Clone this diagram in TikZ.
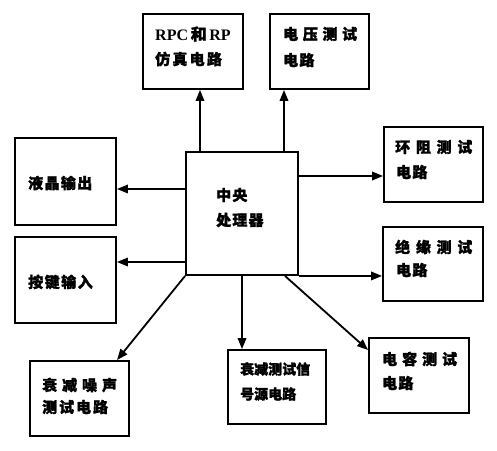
\documentclass[tikz,border=0pt]{standalone}
\usepackage{fontspec}
\setmainfont{Liberation Serif}
\newfontfamily\cjk[FakeBold=1.5]{Noto Sans CJK SC}
\usetikzlibrary{arrows.meta,fit,calc}
\newcommand\lsp[1]{\addfontfeature{LetterSpace=#1}}
\begin{document}
\begin{tikzpicture}[x=1pt,y=-1pt,
  box/.style={draw,line width=1.9pt,inner sep=0pt},
  arr/.style={line width=1.8pt,-{Triangle[length=11pt,width=8.5pt]}},
  txt/.style={anchor=west,inner sep=0pt,font=\cjk\bfseries\fontsize{15}{18}\selectfont},
  stxt/.style={anchor=west,inner sep=0pt,font=\cjk\bfseries\fontsize{14}{17}\selectfont}]
\useasboundingbox (0,0) rectangle (497,450);
% boxes
\node[box,fit={(143,14) (243,89)}] (rpc) {};
\node[box,fit={(270,14) (369,89)}] (volt) {};
\node[box,fit={(384,127) (483,202)}] (ring) {};
\node[box,fit={(15,138) (116,225)}] (lcd) {};
\node[box,fit={(186,152) (298,275)}] (cpu) {};
\node[box,fit={(15,237) (116,323)}] (key) {};
\node[box,fit={(383,227) (483,301)}] (ins) {};
\node[box,fit={(30,361) (129,436)}] (noise) {};
\node[box,fit={(228,350) (326,424)}] (sig) {};
\node[box,fit={(369,338) (469,413)}] (cap) {};
% texts
\node[txt] (t1a) at (155,34) {\fontspec{Liberation Serif}\bfseries\fontsize{16}{18}\selectfont RPC\,{\cjk 和}\,RP};
\node[txt] (t1b) at (155,59) {\lsp{15}仿真电路};
\node[txt] (t2a) at (283,34) {\lsp{31}电压测试};
\node[txt] (t2b) at (283,60) {\lsp{8}电路};
\node[txt] (t3a) at (395,147) {\lsp{38}环阻测试};
\node[txt] (t3b) at (396,172) {\lsp{8}电路};
\node[txt] (t4) at (28,183) {\lsp{9}液晶输出};
\node[txt] (t5a) at (216,195) {\lsp{8}中央};
\node[txt] (t5b) at (216,220) {\lsp{8}处理器};
\node[txt] (t6) at (28,282) {\lsp{10}按键输入};
\node[txt] (t7a) at (395,247) {\lsp{38}绝缘测试};
\node[txt] (t7b) at (396,270) {\lsp{8}电路};
\node[txt] (t8a) at (42,385) {\lsp{33}衰减噪声};
\node[txt] (t8b) at (42,407) {\lsp{13}测试电路};
\node[stxt] (t9a) at (240,369) {衰减测试信};
\node[stxt] (t9b) at (240,394) {号源电路};
\node[txt] (t10a) at (382,359) {\lsp{33}电容测试};
\node[txt] (t10b) at (382,383) {\lsp{8}电路};
% arrows
\draw[arr] (cpu.north -| 200,0) -- (rpc.south -| 200,0);
\draw[arr] (cpu.north -| 284,0) -- (volt.south -| 284,0);
\draw[arr] (cpu.west |- 0,189) -- (lcd.east |- 0,189);
\draw[arr] (cpu.west |- 0,262) -- (key.east |- 0,262);
\draw[arr] (cpu.east |- 0,176) -- (ring.west |- 0,176);
\draw[arr] (cpu.south east) -- (ins.west |- cpu.south east);
\draw[arr] (cpu.south west) -- (noise.north -| 117,0);
\draw[arr] (cpu.south -| 242,0) -- (sig.north -| 242,0);
\draw[arr] (cpu.south -| 285,0) -- (cap.west |- 0,350);
\end{tikzpicture}
\end{document}
